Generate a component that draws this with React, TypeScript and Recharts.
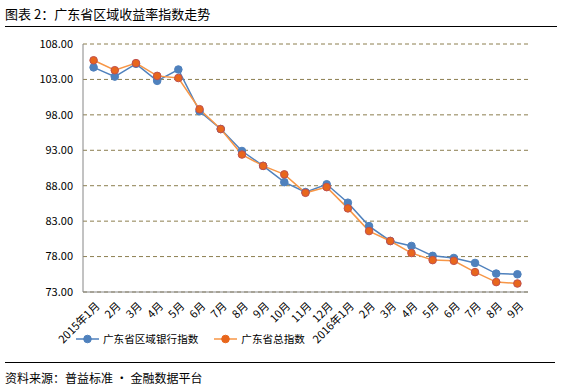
import React from "react";
import {
  LineChart,
  Line,
  XAxis,
  YAxis,
  CartesianGrid
} from "recharts";

const months = [
  "2015年1月", "2月", "3月", "4月", "5月", "6月", "7月", "8月", "9月", "10月", "11月", "12月",
  "2016年1月", "2月", "3月", "4月", "5月", "6月", "7月", "8月", "9月"
];

const bankIndex = [
  104.7, 103.4, 105.2, 102.8, 104.4, 98.5, 96.0, 92.9, 90.8, 88.5, 87.1,
  88.2, 85.6, 82.3, 80.2, 79.5, 78.1, 77.8, 77.1, 75.6, 75.5
];

const totalIndex = [
  105.7, 104.3, 105.3, 103.5, 103.2, 98.8, 96.0, 92.4, 90.8, 89.6, 87.0,
  87.8, 84.8, 81.6, 80.2, 78.5, 77.5, 77.4, 75.8, 74.4, 74.2
];

const yTicks = [73, 78, 83, 88, 93, 98, 103, 108];

const data = months.map((m, i) => ({
  name: m,
  bank: bankIndex[i],
  total: totalIndex[i]
}));

const font = "'Noto Sans CJK SC', 'Noto Sans', sans-serif";
const blue = "#4F81BD";
const orange = "#F79646";

function XTick(props: any) {
  const { x, y, payload } = props;
  return (
    <text
      x={x + 4}
      y={y + 4}
      transform={`rotate(-45, ${x + 4}, ${y + 4})`}
      textAnchor="end"
      fontSize={11}
      fontFamily={font}
      fill="#000"
      dy={4}
    >
      {payload.value}
    </text>
  );
}

function LegendBox() {
  const item = (color: string, label: string, fill: string) => (
    <div style={{ display: "flex", alignItems: "center", marginRight: 16 }}>
      <svg width={24} height={10}>
        <line x1={0} y1={5} x2={23} y2={5} stroke={color} strokeWidth={1.5} />
        <circle cx={11.5} cy={5} r={3.8} fill={fill} stroke={fill} />
      </svg>
      <span style={{ fontSize: 10.6, marginLeft: 3 }}>{label}</span>
    </div>
  );
  return (
    <div style={{ display: "flex", fontFamily: font, color: "#000" }}>
      {item(blue, "广东省区域银行指数", blue)}
      {item(orange, "广东省总指数", "#E8661C")}
    </div>
  );
}

export default function App() {
  return (
    <div
      style={{
        position: "absolute",
        left: 0,
        top: 0,
        width: 562,
        height: 390,
        background: "#fff",
        fontFamily: font
      }}
    >
      <div style={{ position: "absolute", left: 5, top: 4, fontSize: 13, color: "#000" }}>
        图表 2：广东省区域收益率指数走势
      </div>
      <div style={{ position: "absolute", left: 5, top: 26, width: 552, height: 1, background: "#000" }} />
      <div style={{ position: "absolute", left: 0, top: 0 }}>
        <LineChart
          width={562}
          height={390}
          data={data}
          margin={{ top: 44, right: 34, left: 0, bottom: 48 }}
        >
          <CartesianGrid
            vertical={false}
            stroke="#8C7E4F"
            strokeDasharray="4 3"
          />
          <XAxis
            dataKey="name"
            interval={0}
            tickLine={false}
            axisLine={{ stroke: "#868686" }}
            padding={{ left: 10.6, right: 10.6 }}
            height={50}
            tick={<XTick />}
          />
          <YAxis
            domain={[73, 108]}
            ticks={yTicks}
            width={83}
            tickLine={false}
            axisLine={{ stroke: "#868686" }}
            tickFormatter={(v: number) => v.toFixed(2)}
            tick={{ fontSize: 11, fill: "#000", fontFamily: font }}
            tickMargin={4}
          />
          <Line
            type="linear"
            dataKey="bank"
            stroke={blue}
            strokeWidth={1.5}
            dot={{ r: 3.8, fill: blue, stroke: blue, strokeWidth: 1 }}
            isAnimationActive={false}
          />
          <Line
            type="linear"
            dataKey="total"
            stroke={orange}
            strokeWidth={1.5}
            dot={{ r: 3.8, fill: "#E8661C", stroke: "#C0504D", strokeWidth: 1 }}
            isAnimationActive={false}
          />
        </LineChart>
      </div>
      <div style={{ position: "absolute", left: 76, top: 331 }}>
        <LegendBox />
      </div>
      <div style={{ position: "absolute", left: 5, top: 362, width: 550, height: 1, background: "#000" }} />
      <div style={{ position: "absolute", left: 5, top: 369, fontSize: 12, color: "#000" }}>
        资料来源：普益标准 · 金融数据平台
      </div>
    </div>
  );
}
